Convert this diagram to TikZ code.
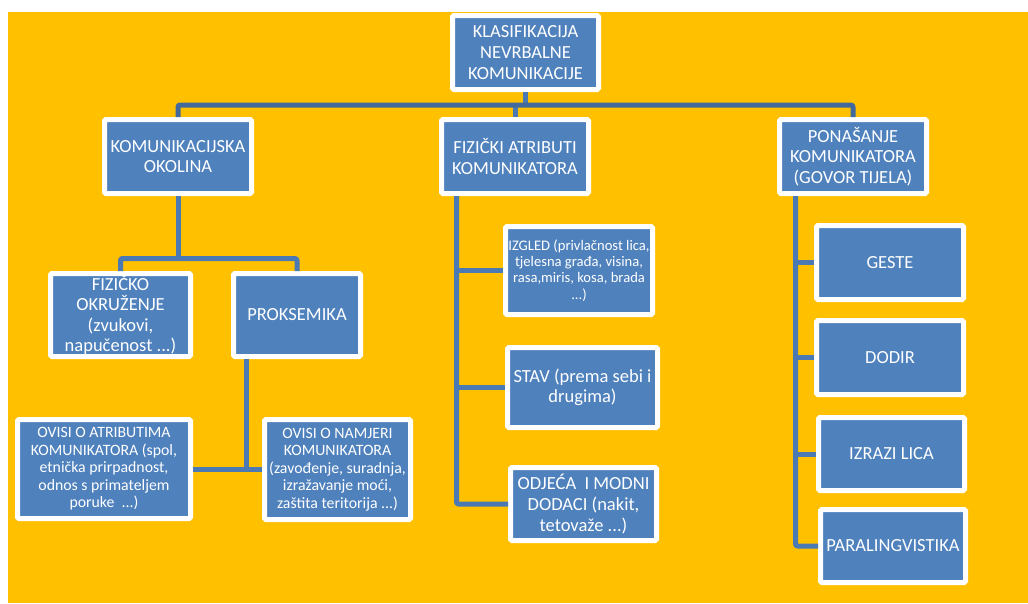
\documentclass[tikz,border=0pt]{standalone}
\usepackage{fontspec}
\setmainfont{Carlito}
\definecolor{bgyellow}{HTML}{FFC000}
\definecolor{boxblue}{HTML}{4F81BD}
\definecolor{connblue}{HTML}{4A79B3}
\definecolor{busblue}{HTML}{41699C}
\tikzset{
  box/.style={draw=white, line width=5pt, fill=boxblue, text=white, align=center,
    inner sep=0pt, rounded corners=1.5pt},
  bigfont/.style={font=\fontsize{18.5}{20.6}\selectfont},
  midfont/.style={font=\fontsize{15.8}{17.5}\selectfont},
  smallfont/.style={font=\fontsize{14.6}{16.2}\selectfont},
  conn/.style={draw=connblue, line width=5pt, line join=round},
  bus/.style={draw=busblue, line width=5pt, line join=round},
}
\begin{document}
\begin{tikzpicture}[x=1pt, y=-1pt]
\useasboundingbox (0,0) rectangle (1028,603);
\fill[white] (0,0) rectangle (1028,603);
\fill[bgyellow] (8,12) rectangle (1028,603);

% nodes
\node[box, bigfont, minimum width=146pt, minimum height=74pt] (top) at (525.5,52.5)
  {KLASIFIKACIJA\\NEVRBALNE\\KOMUNIKACIJE};
\node[box, bigfont, minimum width=147pt, minimum height=74pt] (kom) at (178,156.5)
  {KOMUNIKACIJSKA\\OKOLINA};
\node[box, bigfont, minimum width=147pt, minimum height=74pt] (fiz) at (515,156.5)
  {FIZIČKI ATRIBUTI\\KOMUNIKATORA};
\node[box, bigfont, minimum width=147pt, minimum height=74pt] (pon) at (853,156.5)
  {PONAŠANJE\\KOMUNIKATORA\\(GOVOR TIJELA)};

\node[box, bigfont, minimum width=140pt, minimum height=83pt] (fizok) at (120.5,315)
  {FIZIČKO\\OKRUŽENJE\\(zvukovi,\\napučenost ...)};
\node[box, bigfont, minimum width=127pt, minimum height=83pt] (prok) at (297,315)
  {PROKSEMIKA};
\node[box, midfont, minimum width=173pt, minimum height=99pt] (ovisiA) at (104,469)
  {OVISI O ATRIBUTIMA\\KOMUNIKATORA (spol,\\etnička prirpadnost,\\odnos s primateljem\\poruke~ ...)};
\node[box, midfont, minimum width=146pt, minimum height=100pt] (ovisiN) at (337.5,469.5)
  {OVISI O NAMJERI\\KOMUNIKATORA\\(zavođenje, suradnja,\\izražavanje moći,\\zaštita teritorija ...)};

\node[box, smallfont, minimum width=147pt, minimum height=88pt] (izgled) at (579,270.5)
  {IZGLED (privlačnost lica,\\tjelesna građa, visina,\\rasa,miris, kosa, brada\\...)};
\node[box, bigfont, minimum width=150pt, minimum height=80pt] (stav) at (582.5,387.5)
  {STAV (prema sebi i\\drugima)};
\node[box, bigfont, minimum width=146pt, minimum height=73pt] (odj) at (583.5,504)
  {ODJEĆA~ I MODNI\\DODACI (nakit,\\tetovaže ...)};

\node[box, bigfont, minimum width=147pt, minimum height=74pt] (geste) at (890,262.5) {GESTE};
\node[box, bigfont, minimum width=147pt, minimum height=74pt] (dodir) at (890,357.5) {DODIR};
\node[box, bigfont, minimum width=146pt, minimum height=73pt] (izrazi) at (891.5,454) {IZRAZI LICA};
\node[box, bigfont, minimum width=145pt, minimum height=73pt] (para) at (893,546) {PARALINGVISTIKA};

% connectors
\coordinate (b) at (0,105);
\coordinate (c) at (0,258.5);
\coordinate (p) at (246.5,0);
\coordinate (m) at (456.5,0);
\coordinate (r) at (795.5,0);
\draw[conn] (top.south) -- (top.south |- b);
\draw[conn] (fiz.north) -- (fiz.north |- b);
\draw[bus, rounded corners=2pt] (kom.north) -- (kom.north |- b) -- (pon.north |- b) -- (pon.north);

\draw[conn] (kom.south) -- (kom.south |- c);
\draw[conn, rounded corners=2pt] (fizok.north) -- (fizok.north |- c) -- (prok.north |- c) -- (prok.north);

\draw[conn] (p |- prok.south) -- ([yshift=2.5pt]p |- ovisiA.east);
\draw[conn] (ovisiA.east) -- (ovisiA.east -| ovisiN.west);

\draw[conn, rounded corners=2pt] (m |- fiz.south) |- (odj.west);
\draw[conn] (m |- izgled.west) -- (izgled.west);
\draw[conn] (m |- stav.west) -- (stav.west);

\draw[conn, rounded corners=2pt] (r |- pon.south) |- (para.west);
\draw[conn] (r |- geste.west) -- (geste.west);
\draw[conn] (r |- dodir.west) -- (dodir.west);
\draw[conn] (r |- izrazi.west) -- (izrazi.west);
\end{tikzpicture}
\end{document}
